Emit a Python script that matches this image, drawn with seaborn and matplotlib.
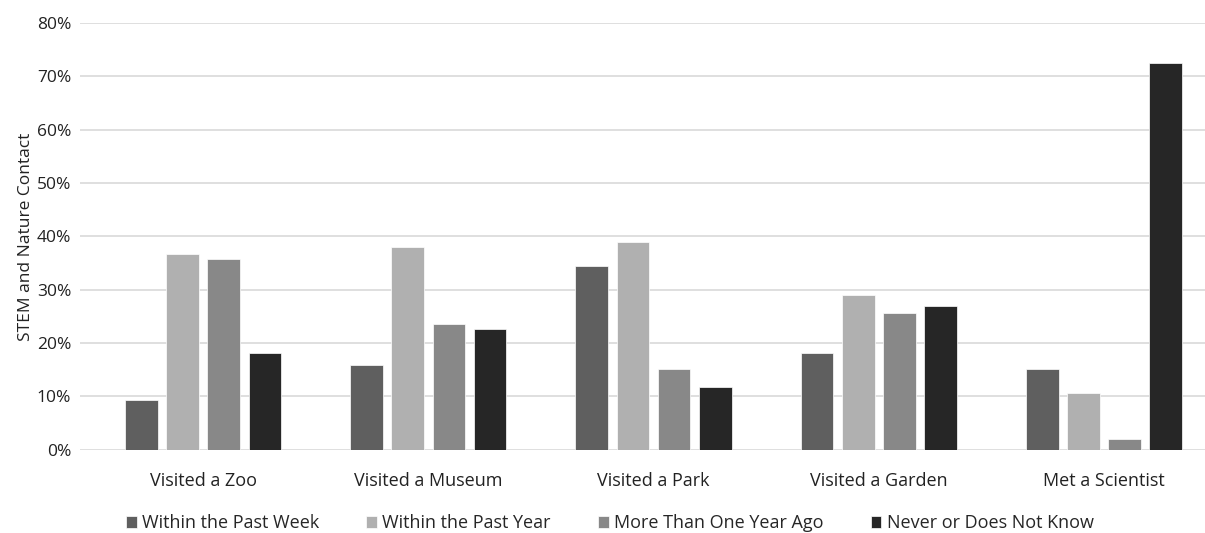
import matplotlib.pyplot as plt
import seaborn as sns
import pandas as pd
from matplotlib.ticker import PercentFormatter

categories = ["Visited a Zoo", "Visited a Museum", "Visited a Park", "Visited a Garden", "Met a Scientist"]
series = ["Within the Past Week", "Within the Past Year", "More Than One Year Ago", "Never or Does Not Know"]
past_week = [9.4, 15.9, 34.4, 18.1, 15.1]
past_year = [36.7, 38.0, 38.9, 29.1, 10.7]
over_year = [35.8, 23.5, 15.2, 25.7, 2.0]
never = [18.2, 22.6, 11.7, 27.0, 72.4]
colors = ["#5f5f5f", "#b0b0b0", "#888888", "#262626"]

rows = []
for s, vals in zip(series, [past_week, past_year, over_year, never]):
    for c, v in zip(categories, vals):
        rows.append({"category": c, "series": s, "value": v / 100})
df = pd.DataFrame(rows)

sns.set_theme(style="white")
plt.rcParams["font.family"] = ["Open Sans", "DejaVu Sans"]

fig = plt.figure(figsize=(12.05, 5.33), dpi=100)
ax = fig.add_axes([0.066, 0.156, 0.934, 0.801])

sns.barplot(data=df, x="category", y="value", hue="series", hue_order=series,
            order=categories, palette=colors, width=0.73, gap=0.2,
            edgecolor="white", linewidth=0.5, ax=ax, legend=True)

ax.set_ylim(0, 0.8)
ax.set_yticks([i / 10 for i in range(9)])
ax.yaxis.set_major_formatter(PercentFormatter(1.0, decimals=0))
ax.grid(axis="y", color="#d9d9d9", linewidth=1.2)
ax.set_axisbelow(True)
for sp in ax.spines.values():
    sp.set_visible(False)
ax.tick_params(axis="y", length=0, labelsize=12.5, colors="#222222", pad=6)
ax.tick_params(axis="x", length=0, labelsize=13, colors="#222222", pad=16)
ax.set_xlabel("")
ax.set_ylabel("STEM and Nature Contact", fontsize=12.5, color="#222222", labelpad=2)
ax.set_xlim(-0.55, 4.45)

handles, labels = ax.get_legend_handles_labels()
ax.get_legend().remove()
fig.legend(handles, labels, loc="center", bbox_to_anchor=(0.506, 0.018), ncol=4,
           frameon=False, fontsize=13, handlelength=0.6, handleheight=0.6,
           handletextpad=0.3, columnspacing=2.6)

plt.savefig("out.png", dpi=100)
